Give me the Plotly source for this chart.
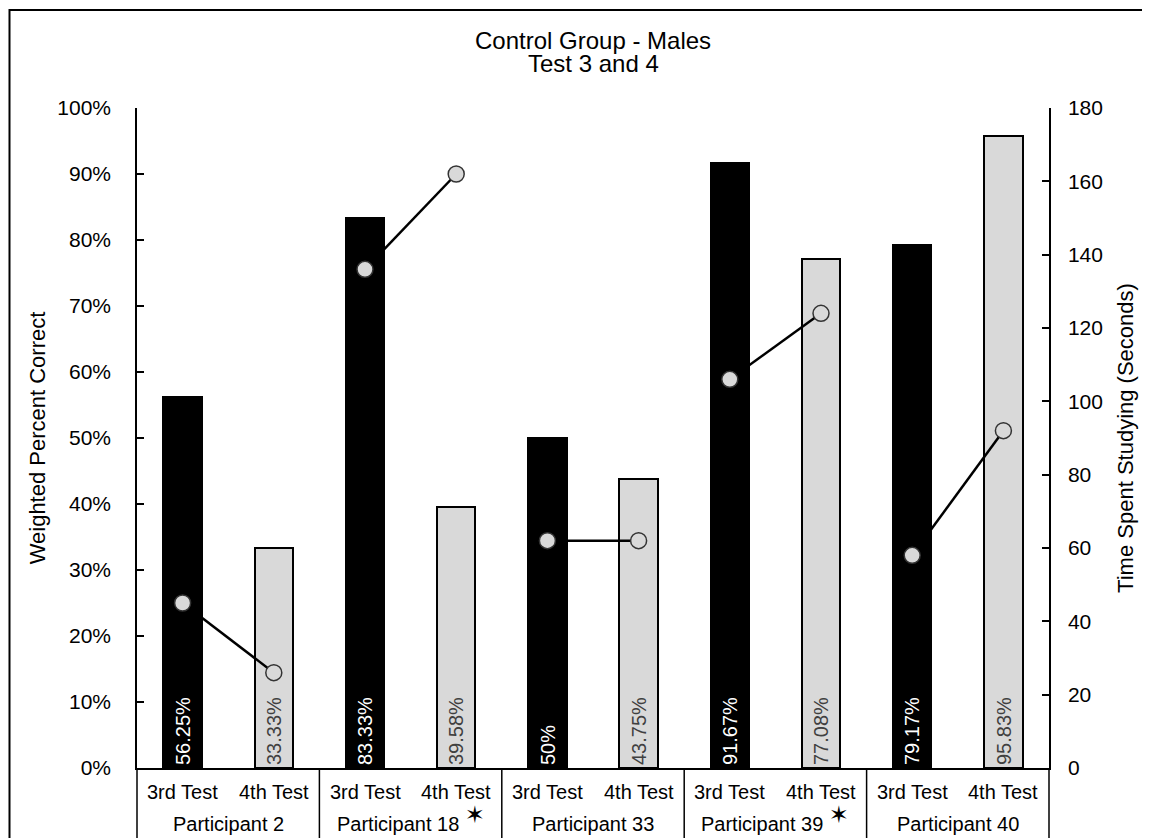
import plotly.graph_objects as go

# ---- data ----
participants = ["Participant 2", "Participant 18", "Participant 33", "Participant 39", "Participant 40"]
participant_marks = ["", "✶", "", "✶", ""]
tests = ["3rd Test", "4th Test"]
score_3rd = [0.5625, 0.8333, 0.50, 0.9167, 0.7917]
score_4th = [0.3333, 0.3958, 0.4375, 0.7708, 0.9583]
time_3rd = [45, 136, 62, 106, 58]
time_4th = [26, 162, 62, 124, 92]

# ---- styles ----
FONT = "Liberation Sans, Arial, sans-serif"
BAR_COLORS = {"3rd Test": "#000000", "4th Test": "#d9d9d9"}
TEXT_COLORS = {"3rd Test": "#ffffff", "4th Test": "#404040"}


def pct_label(v):
    s = f"{v * 100:.2f}".rstrip("0").rstrip(".")
    return s + "%"


cats, ys, cols, tcols, texts = [], [], [], [], []
for p, s3, s4 in zip(participants, score_3rd, score_4th):
    for t, v in zip(tests, (s3, s4)):
        cats.append(f"{p} | {t}")
        ys.append(v)
        cols.append(BAR_COLORS[t])
        tcols.append(TEXT_COLORS[t])
        texts.append(pct_label(v))

fig = go.Figure()
fig.add_trace(go.Bar(
    x=cats, y=ys, width=0.42,
    marker=dict(color=cols, line=dict(color="#000000", width=2)),
    text=texts, textposition="inside", insidetextanchor="start", textangle=-90,
    textfont=dict(color=tcols, size=20, family=FONT),
    showlegend=False,
))

for p, t3, t4 in zip(participants, time_3rd, time_4th):
    fig.add_trace(go.Scatter(
        x=[f"{p} | {t}" for t in tests], y=[t3, t4], yaxis="y2", mode="lines+markers",
        line=dict(color="#000000", width=2.5),
        marker=dict(symbol="circle", size=16, color="#d9d9d9", line=dict(color="#333333", width=1.5)),
        showlegend=False,
    ))

axis_common = dict(showline=True, linecolor="#000000", linewidth=1.5, ticks="inside", ticklen=7,
                   tickcolor="#000000", tickwidth=1.5, showgrid=False, zeroline=False,
                   tickfont=dict(size=21, family=FONT, color="#000000"))

# titles, category-axis labels and group dividers
annotations = [
    dict(text="Control Group - Males", xref="paper", yref="paper", x=0.5, y=1.103,
         xanchor="center", yanchor="middle", showarrow=False, font=dict(size=24, family=FONT)),
    dict(text="Test 3 and 4", xref="paper", yref="paper", x=0.5, y=1.068,
         xanchor="center", yanchor="middle", showarrow=False, font=dict(size=24, family=FONT)),
]
for c in cats:
    annotations.append(dict(text=c.split(" | ")[1], xref="x", yref="paper", x=c, y=-0.036,
                            xanchor="center", yanchor="middle", showarrow=False,
                            font=dict(size=20, family=FONT, color="#000000")))
n = len(participants)
for i, (p, m) in enumerate(zip(participants, participant_marks)):
    txt = p + (f" <sup><span style='font-size:24px;font-family:DejaVu Sans'>{m}</span></sup>" if m else "")
    annotations.append(dict(text=txt, xref="paper", yref="paper", x=(i + 0.5) / n, y=-0.1045,
                            xanchor="center", yanchor="bottom", showarrow=False,
                            font=dict(size=20, family=FONT, color="#000000")))

shapes = [dict(type="line", xref="paper", yref="paper", x0=i / n, x1=i / n, y0=-0.2, y1=0,
               line=dict(color="#000000", width=1.5)) for i in range(n + 1)]
shapes.append(dict(type="rect", xref="paper", yref="paper", x0=-0.1398, x1=1.1075, y0=-0.2, y1=1.1485,
                   line=dict(color="#000000", width=2), fillcolor="rgba(0,0,0,0)", layer="below"))

fig.update_layout(
    width=1142, height=830,
    margin=dict(l=129, r=101, t=100, b=70),
    paper_bgcolor="#ffffff", plot_bgcolor="#ffffff",
    font=dict(family=FONT, color="#000000"),
    bargap=0,
    xaxis=dict(type="category", range=[-0.5, len(cats) - 0.5], autorange=False,
               showline=True, linecolor="#000000", linewidth=1.5,
               showticklabels=False, ticks="", showgrid=False, automargin=False),
    yaxis=dict(range=[0, 1], dtick=0.1, tickformat=".0%", automargin=False,
               title=dict(text="Weighted Percent Correct", font=dict(size=22, family=FONT), standoff=6),
               ticklabelstandoff=20, **axis_common),
    yaxis2=dict(range=[0, 180], dtick=20, overlaying="y", side="right", automargin=False,
                title=dict(text="Time Spent Studying (Seconds)", font=dict(size=22, family=FONT), standoff=16),
                ticklabelstandoff=13, **axis_common),
    shapes=shapes,
    annotations=annotations,
)

fig.write_html("out.html")
